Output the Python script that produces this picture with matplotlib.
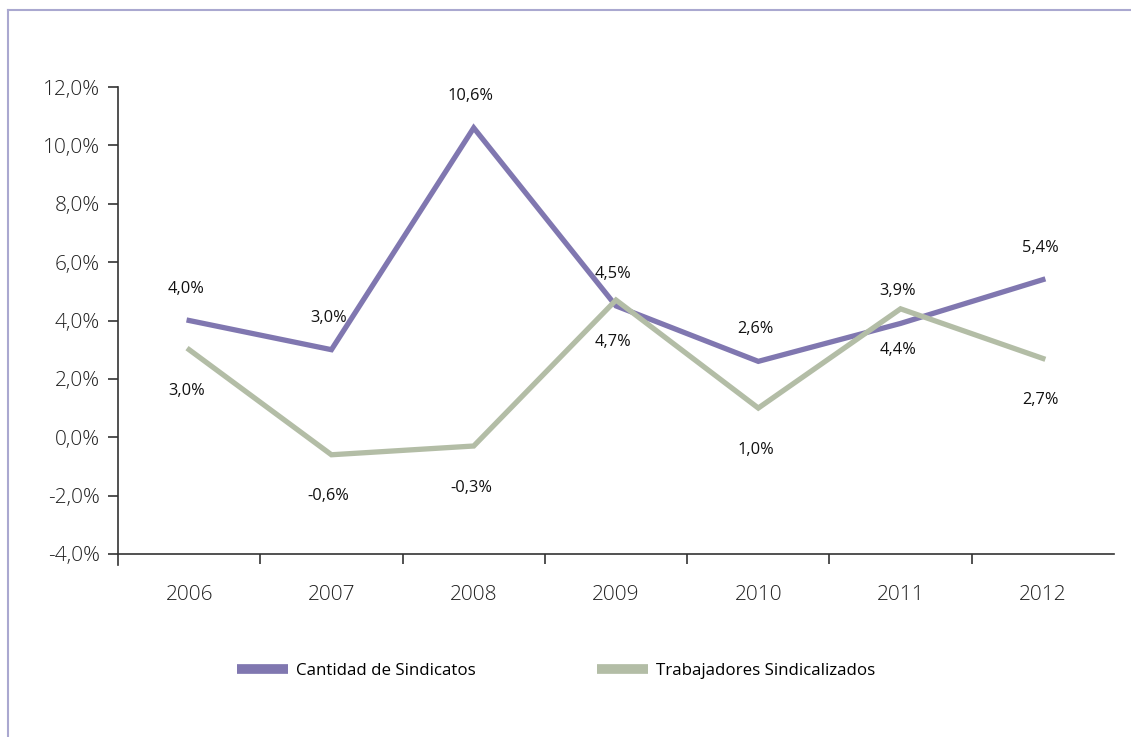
import matplotlib.pyplot as plt
from matplotlib.lines import Line2D

# data
years = ['2006', '2007', '2008', '2009', '2010', '2011', '2012']
sindicatos = [4.0, 3.0, 10.6, 4.5, 2.6, 3.9, 5.4]
trabajadores = [3.0, -0.6, -0.3, 4.7, 1.0, 4.4, 2.7]
yticks = [-4, -2, 0, 2, 4, 6, 8, 10, 12]

purple = '#8077b0'
green = '#b3bda6'
axcol = '#333333'

plt.rcParams['font.family'] = ['Open Sans', 'DejaVu Sans']

fig = plt.figure(figsize=(11.31, 7.37), dpi=100)

# thin frame at top and left of the picture
frame = '#aaa8d0'
fig.add_artist(Line2D([8 / 1131, 1], [1 - 10 / 737, 1 - 10 / 737], color=frame, lw=1.5))
fig.add_artist(Line2D([8 / 1131, 8 / 1131], [0, 1 - 10 / 737], color=frame, lw=1.5))

ax = fig.add_axes([118 / 1131, 1 - 554 / 737, (1114 - 118) / 1131, (554 - 87) / 737])
x = list(range(len(years)))
ax.plot(x, sindicatos, color=purple, lw=3.8, solid_joinstyle='miter', label='Cantidad de Sindicatos')
ax.plot(x, trabajadores, color=green, lw=3.8, solid_joinstyle='miter', label='Trabajadores Sindicalizados')

fmt = lambda v: ('%.1f%%' % v).replace('.', ',')
for xi, v in zip(x, sindicatos):
    ax.annotate(fmt(v), (xi, v), xytext=(-2, 23), textcoords='offset points',
                ha='center', va='center', fontsize=11.8, color='#111111')
for xi, v in zip(x, trabajadores):
    ax.annotate(fmt(v), (xi, v), xytext=(-2, -30), textcoords='offset points',
                ha='center', va='center', fontsize=11.8, color='#111111')

ax.set_xlim(-0.5, len(years) - 0.5)
ax.set_ylim(-4, 12)
ax.set_yticks(yticks)
ax.set_yticklabels([fmt(t) for t in yticks], fontsize=15, fontweight='light', color='#222222')
ax.set_xticks(x)
ax.set_xticklabels(years, fontsize=15, fontweight='light', color='#222222')
ax.set_xticks([i + 0.5 for i in range(len(years) - 1)], minor=True)
ax.tick_params(axis='x', which='major', length=0, pad=22)
ax.tick_params(axis='x', which='minor', length=7, width=1.2, color=axcol, direction='out')
ax.tick_params(axis='y', length=7, width=1.2, color=axcol, direction='out', pad=6)

for s in ['top', 'right']:
    ax.spines[s].set_visible(False)
for s in ['left', 'bottom']:
    ax.spines[s].set_color(axcol)
    ax.spines[s].set_linewidth(1.2)
ax.spines['left'].set_bounds(-4.38, 12)

handles = [Line2D([], [], color=purple, lw=7, solid_capstyle='butt'),
           Line2D([], [], color=green, lw=7, solid_capstyle='butt')]
fig.legend(handles, ['Cantidad de Sindicatos', 'Trabajadores Sindicalizados'],
           loc='center left', bbox_to_anchor=(222 / 1131, 1 - 671 / 737), ncol=2,
           frameon=False, fontsize=12.2, handlelength=3.0, handletextpad=0.45,
           columnspacing=7.2)

fig.savefig('out.png', dpi=100)
